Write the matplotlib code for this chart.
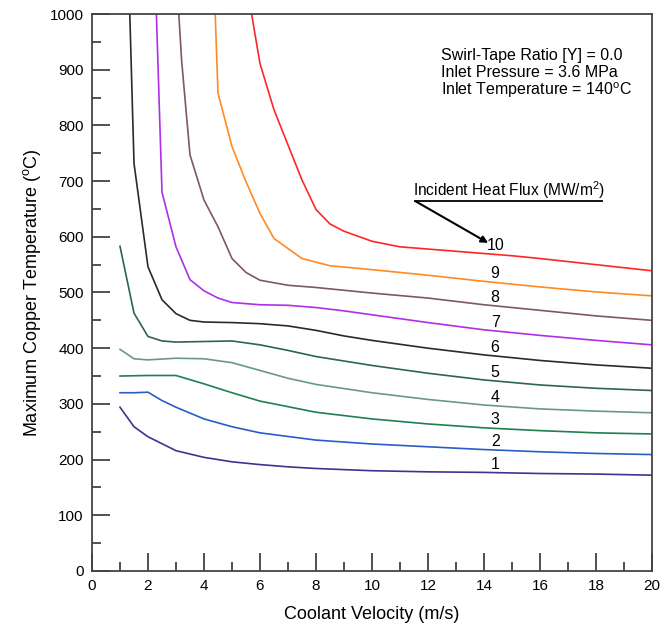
import numpy as np
import matplotlib
matplotlib.use("Agg")
import matplotlib.pyplot as plt

plt.rcParams['font.family'] = ['Liberation Sans', 'DejaVu Sans']
plt.rcParams['mathtext.fontset'] = 'custom'
plt.rcParams['mathtext.rm'] = 'Liberation Sans'
plt.rcParams['mathtext.it'] = 'Liberation Sans:italic'

# coolant velocity (m/s) vs max copper temperature (C), one curve per heat flux
flux_labels = ["1", "2", "3", "4", "5", "6", "7", "8", "9", "10"]

v1 = [1, 1.5, 2, 3, 4, 5, 6, 7, 8, 10, 12, 14, 16, 18, 20]
t1 = [294, 259, 241, 216, 204, 196, 191, 187, 184, 180, 178, 177, 175, 174, 172]

v2 = [1, 1.5, 2, 2.5, 3, 4, 5, 6, 8, 10, 12, 14, 16, 18, 20]
t2 = [320, 320, 321, 306, 294, 273, 259, 248, 235, 228, 223, 218, 214, 211, 209]

v3 = [1, 2, 3, 4, 5, 6, 8, 10, 12, 14, 16, 18, 20]
t3 = [350, 351, 351, 336, 320, 305, 285, 273, 264, 257, 252, 248, 246]

v4 = [1, 1.5, 2, 3, 4, 5, 6, 7, 8, 10, 12, 14, 16, 18, 20]
t4 = [398, 381, 379, 382, 381, 374, 360, 346, 335, 320, 308, 298, 291, 287, 284]

v5 = [1, 1.5, 2, 2.5, 3, 4, 5, 6, 7, 8, 10, 12, 14, 16, 18, 20]
t5 = [583, 463, 421, 413, 411, 412, 413, 406, 396, 385, 369, 355, 343, 334, 328, 324]

v6 = [1.35, 1.5, 2, 2.5, 3, 3.5, 4, 5, 6, 7, 8, 9, 10, 12, 14, 16, 18, 20]
t6 = [1000, 732, 546, 487, 462, 450, 447, 446, 444, 440, 432, 422, 414, 400, 388, 378, 370, 364]

v7 = [2.3, 2.5, 3, 3.5, 4, 4.5, 5, 6, 7, 8, 9, 10, 12, 14, 16, 18, 20]
t7 = [1000, 680, 582, 523, 503, 490, 482, 478, 477, 473, 467, 460, 446, 433, 423, 414, 406]

v8 = [3.1, 3.2, 3.5, 4, 4.5, 5, 5.5, 6, 7, 8, 10, 12, 14, 16, 18, 20]
t8 = [1000, 917, 747, 666, 618, 561, 536, 522, 513, 509, 499, 490, 478, 468, 458, 450]

v9 = [4.4, 4.5, 5, 5.5, 6, 6.5, 7.5, 8.5, 10, 12, 14, 16, 18, 20]
t9 = [1000, 858, 762, 699, 642, 597, 561, 548, 541, 531, 520, 510, 501, 494]

v10 = [5.7, 6, 6.5, 7, 7.5, 8, 8.5, 9, 10, 11, 12, 14, 15, 16, 18, 20]
t10 = [1000, 911, 828, 765, 702, 649, 623, 610, 592, 582, 578, 570, 566, 561, 550, 539]

velocities = [v1, v2, v3, v4, v5, v6, v7, v8, v9, v10]
temps = [t1, t2, t3, t4, t5, t6, t7, t8, t9, t10]
colors = ['#3b3490', '#2a5cc8', '#1f8050', '#6a9888', '#2e6455',
          '#2a2a2a', '#b02ee8', '#7e5862', '#ff8a22', '#ff2626']

fig = plt.figure(figsize=(6.72, 6.26), dpi=100)
ax = fig.add_axes([0.1369, 0.0879, 0.8333, 0.8897])

label_x = 14.4
for v, t, c, lab in zip(velocities, temps, colors, flux_labels):
    ax.plot(v, t, color=c, lw=1.2)
    y_lab = np.interp(label_x, v, t)
    ax.text(label_x, y_lab + 2, lab, ha='center', va='bottom', fontsize=11.5)

ax.set_xlim(0, 20)
ax.set_ylim(0, 1000)
ax.set_xticks(np.arange(0, 21, 2))
ax.set_xticks(np.arange(0, 21, 1), minor=True)
ax.set_yticks(np.arange(0, 1001, 100))
ax.set_yticks(np.arange(0, 1001, 50), minor=True)
ax.tick_params(which='both', direction='in', top=False, right=False,
               labelsize=11, width=1.2, color='#333333')
ax.tick_params(which='major', length=13, pad=6)
ax.tick_params(which='minor', length=6.5)
for s in ax.spines.values():
    s.set_linewidth(1.3)
    s.set_color('#444444')

ax.set_xlabel("Coolant Velocity (m/s)", fontsize=13, labelpad=9)
ax.set_ylabel(r"Maximum Copper Temperature ($^{\mathrm{o}}$C)", fontsize=13, labelpad=5)

ax.text(12.47, 926, "Swirl-Tape Ratio [Y] = 0.0", fontsize=11.5, va='center')
ax.text(12.47, 895, "Inlet Pressure = 3.6 MPa", fontsize=11.5, va='center')
ax.text(12.47, 864, r"Inlet Temperature = 140$^{\mathrm{o}}$C", fontsize=11.5, va='center')

ax.text(11.48, 683, r"Incident Heat Flux (MW/m$^{2}$)", fontsize=11.2, va='center')
ax.plot([11.55, 18.2], [664, 664], color='black', lw=1.3)
ax.annotate("", xy=(14.15, 589), xytext=(11.55, 664),
            arrowprops=dict(arrowstyle='-|>', color='black', lw=1.5,
                            mutation_scale=10, shrinkA=0, shrinkB=0))

fig.savefig("out.png", dpi=100)
